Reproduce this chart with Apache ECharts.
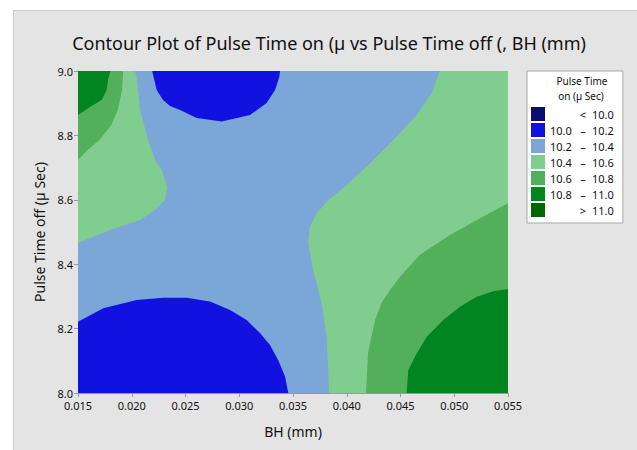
<!DOCTYPE html>
<html>
<head>
<meta charset="utf-8">
<script src="https://cdn.jsdelivr.net/npm/echarts@6/dist/echarts.min.js"></script>
<style>html,body{margin:0;padding:0;background:#fff;}#c{width:637px;height:450px;}</style>
</head>
<body>
<div id="c"></div>
<script>
// ---- Data ----
const xTicks = [0.015, 0.020, 0.025, 0.030, 0.035, 0.040, 0.045, 0.050, 0.055];
const yTicks = [8.0, 8.2, 8.4, 8.6, 8.8, 9.0];
const levelLabels = ['< 10.0', '10.0 – 10.2', '10.2 – 10.4', '10.4 – 10.6', '10.6 – 10.8', '10.8 – 11.0', '> 11.0'];
const levelColors = ['#0c0c72', '#1212e0', '#7ba7d8', '#80cd8f', '#53b05a', '#008520', '#006600'];
const legendTitleLines = ['Pulse Time', 'on (µ Sec)'];

// contour band boundaries [BH (mm), Pulse Time off]
const bandBase_10_2 = [[0.015, 8.0], [0.055, 8.0], [0.055, 9.0], [0.015, 9.0]];
const bandTopLeft_10_4 = [[0.015, 9.0], [0.0203, 9.0], [0.02049, 8.972], [0.02077, 8.879], [0.02151, 8.786], [0.02216, 8.724], [0.02279, 8.693], [0.02328, 8.640], [0.02309, 8.599], [0.02216, 8.568], [0.02077, 8.537], [0.01798, 8.506], [0.015, 8.466]];
const bandTopLeft_10_6 = [[0.015, 9.0], [0.0192, 9.0], [0.0191, 8.941], [0.0187, 8.879], [0.0181, 8.832], [0.0170, 8.786], [0.0159, 8.755], [0.015, 8.724]];
const bandTopLeft_10_8 = [[0.015, 9.0], [0.0180, 9.0], [0.01779, 8.972], [0.01767, 8.941], [0.0172, 8.910], [0.01612, 8.888], [0.015, 8.863]];
const bandTop_10_0 = [[0.0219, 9.0], [0.02232, 8.941], [0.02291, 8.910], [0.02356, 8.891], [0.02449, 8.879], [0.02604, 8.854], [0.02837, 8.843], [0.0310, 8.863], [0.03255, 8.901], [0.03333, 8.941], [0.03373, 8.982], [0.03379, 9.0]];
const bandBottom_10_0 = [[0.015, 8.0], [0.015, 8.221], [0.01735, 8.263], [0.02046, 8.289], [0.02291, 8.296], [0.02511, 8.296], [0.02728, 8.284], [0.02914, 8.258], [0.03069, 8.227], [0.03193, 8.186], [0.03286, 8.149], [0.03363, 8.102], [0.03426, 8.051], [0.03456, 8.0]];
const bandRight_10_4 = [[0.04867, 9.0], [0.0479, 8.931], [0.04651, 8.863], [0.04433, 8.786], [0.04216, 8.713], [0.03984, 8.641], [0.03828, 8.599], [0.0372, 8.558], [0.03658, 8.516], [0.03642, 8.466], [0.03686, 8.382], [0.03767, 8.280], [0.03813, 8.175], [0.03828, 8.071], [0.03835, 8.0], [0.055, 8.0], [0.055, 9.0]];
const bandRight_10_6 = [[0.04179, 8.0], [0.04198, 8.124], [0.04263, 8.227], [0.04325, 8.280], [0.04402, 8.320], [0.04495, 8.361], [0.04681, 8.429], [0.0496, 8.491], [0.0524, 8.543], [0.055, 8.589], [0.055, 8.0]];
const bandRight_10_8 = [[0.04558, 8.0], [0.04572, 8.071], [0.04651, 8.123], [0.04744, 8.175], [0.04898, 8.227], [0.05053, 8.268], [0.05209, 8.299], [0.05363, 8.316], [0.055, 8.323], [0.055, 8.0]];

const regions = [
  {level: 2, pts: bandBase_10_2},
  {level: 3, pts: bandTopLeft_10_4},
  {level: 4, pts: bandTopLeft_10_6},
  {level: 5, pts: bandTopLeft_10_8},
  {level: 1, pts: bandTop_10_0},
  {level: 1, pts: bandBottom_10_0},
  {level: 3, pts: bandRight_10_4},
  {level: 4, pts: bandRight_10_6},
  {level: 5, pts: bandRight_10_8}
];

const FONT = 'Noto Sans';
const chart = echarts.init(document.getElementById('c'), null, {renderer: 'svg'});

const series = [];
levelLabels.forEach(function (lab, i) {
  series.push({
    type: 'custom', name: lab, data: [], itemStyle: {color: levelColors[i]},
    renderItem: function () { return null; }
  });
});
regions.forEach(function (r) {
  series.push({
    type: 'custom',
    name: levelLabels[r.level],
    itemStyle: {color: levelColors[r.level]},
    data: r.pts,
    encode: {x: 0, y: 1},
    silent: true,
    clip: true,
    renderItem: function (params, api) {
      if (params.dataIndex !== 0) return null;
      const pts = r.pts.map(function (p) { return api.coord(p); });
      return {type: 'polygon', shape: {points: pts}, style: {fill: levelColors[r.level], stroke: null}};
    }
  });
});

function legendFmt(name) {
  if (name.charAt(0) === '<' || name.charAt(0) === '>') {
    return '{a|}{b|' + name.charAt(0) + '}{c|' + name.slice(2) + '}';
  }
  const parts = name.split(' – ');
  return '{a|' + parts[0] + '}{b|–}{c|' + parts[1] + '}';
}

chart.setOption({
  backgroundColor: '#ffffff',
  animation: false,
  graphic: [
    {type: 'rect', z: -100, left: 13, top: 10, shape: {width: 640, height: 450}, style: {fill: '#e4e4e4', stroke: '#cccccc', lineWidth: 1}}
  ],
  title: [
    {text: 'Contour Plot of Pulse Time on (µ vs Pulse Time off (, BH (mm)', left: 324, top: 29, textAlign: 'center',
      textStyle: {fontFamily: FONT, fontSize: 18, fontWeight: 'normal', color: '#111'}},
    {text: legendTitleLines[0], left: 582, top: 76, textAlign: 'center', z: 10, padding: 0,
      textStyle: {fontFamily: FONT, fontSize: 10, fontWeight: 'normal', color: '#111'}},
    {text: legendTitleLines[1], left: 581, top: 91, textAlign: 'center', z: 10, padding: 0,
      textStyle: {fontFamily: FONT, fontSize: 10, fontWeight: 'normal', color: '#111'}}
  ],
  legend: {
    orient: 'vertical', left: 527, top: 71, width: 95,
    padding: [36, 9, 6, 4],
    backgroundColor: '#ffffff', borderColor: '#a8a8a8', borderWidth: 1,
    itemWidth: 14, itemHeight: 14, itemGap: 2,
    icon: 'rect', selectedMode: false,
    data: levelLabels.map(function (l) { return {name: l, icon: 'rect'}; }),
    formatter: legendFmt,
    textStyle: {
      fontFamily: FONT, fontSize: 11, color: '#111',
      rich: {
        a: {width: 24, align: 'left', fontFamily: FONT, fontSize: 11, color: '#111'},
        b: {width: 18, align: 'center', fontFamily: FONT, fontSize: 11, color: '#111'},
        c: {align: 'left', fontFamily: FONT, fontSize: 11, color: '#111'}
      }
    }
  },
  grid: {left: 78, right: 129, top: 71, bottom: 57},
  xAxis: {
    type: 'value', min: xTicks[0], max: xTicks[xTicks.length - 1], interval: 0.005,
    name: 'BH (mm)', nameLocation: 'middle', nameGap: 31,
    nameTextStyle: {fontFamily: FONT, fontSize: 14, color: '#111'},
    axisLine: {lineStyle: {color: '#999999'}},
    axisTick: {show: true, length: 4, lineStyle: {color: '#999999'}},
    splitLine: {show: false},
    axisLabel: {fontFamily: FONT, fontSize: 11, color: '#111', margin: 7,
      formatter: function (v) { return v.toFixed(3); }}
  },
  yAxis: {
    type: 'value', min: yTicks[0], max: yTicks[yTicks.length - 1], interval: 0.2,
    name: 'Pulse Time off (µ Sec)', nameLocation: 'middle', nameGap: 32,
    nameTextStyle: {fontFamily: FONT, fontSize: 14, color: '#111'},
    axisLine: {show: true, lineStyle: {color: '#999999'}},
    axisTick: {show: true, length: 4, lineStyle: {color: '#999999'}},
    splitLine: {show: false},
    axisLabel: {fontFamily: FONT, fontSize: 11, color: '#111', margin: 5, lineHeight: 12,
      formatter: function (v) { return v.toFixed(1); }}
  },
  series: series
});
</script>
</body>
</html>
